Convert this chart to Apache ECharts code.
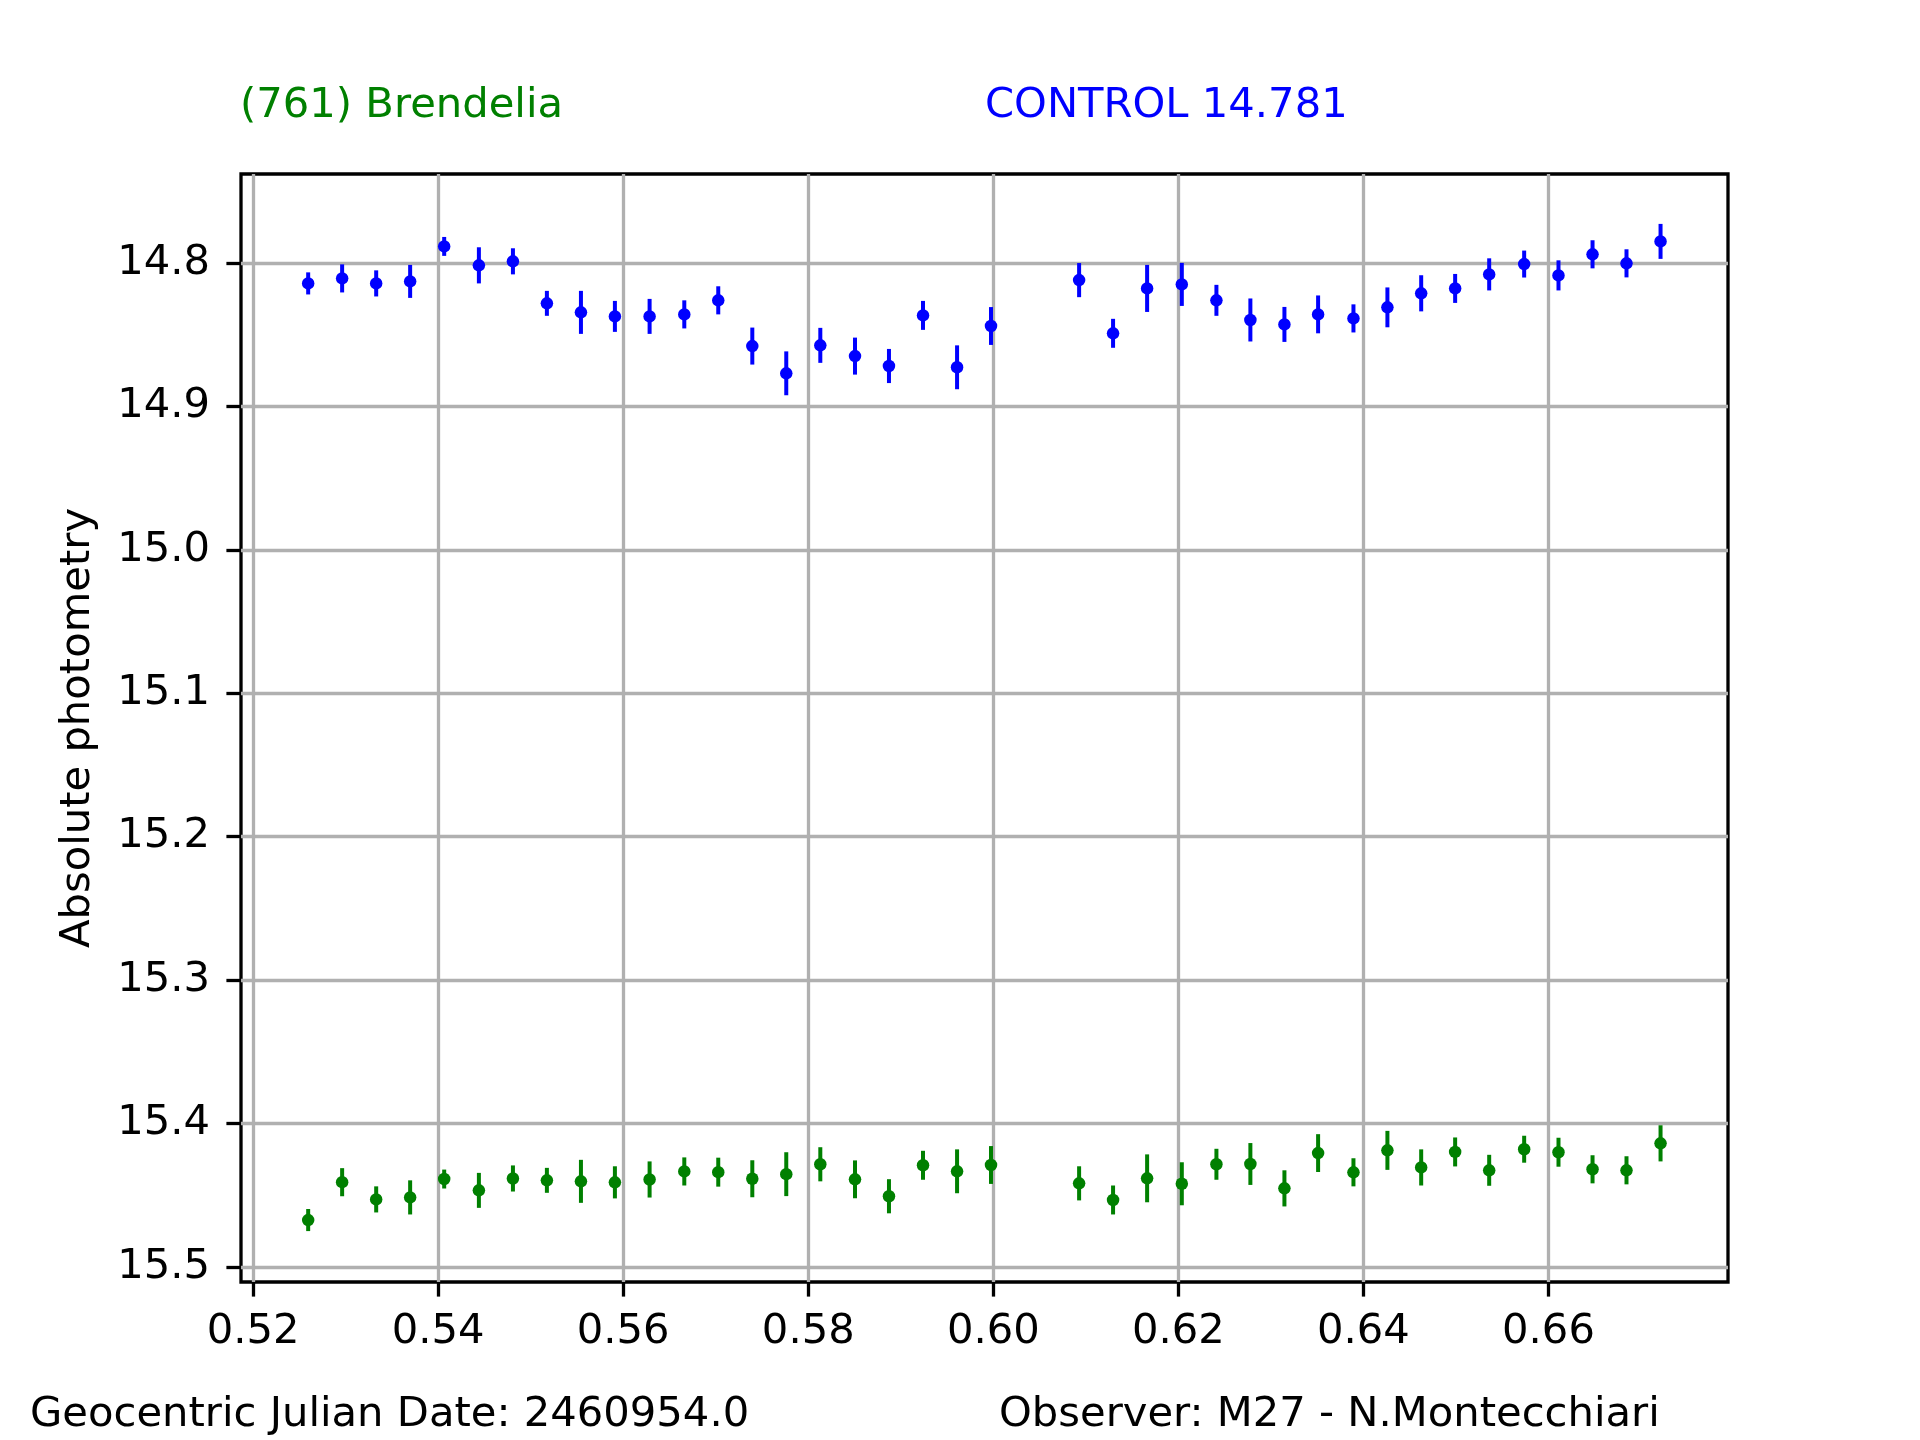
<!DOCTYPE html>
<html>
<head>
<meta charset="utf-8">
<script src="https://cdn.jsdelivr.net/npm/echarts@6/dist/echarts.min.js"></script>
<style>
  html, body { margin: 0; padding: 0; background: #fff; }
  #chart { width: 1920px; height: 1440px; }
</style>
</head>
<body>
<div id="chart"></div>
<script>
// time (fraction of day, JD 2460954.0 +)
const jd = [
  0.52595, 0.52962, 0.53330, 0.53697, 0.54065, 0.54440, 0.54808, 0.55175, 0.55543, 0.55910,
  0.56285, 0.56660, 0.57027, 0.57395, 0.57762, 0.58130, 0.58505, 0.58872, 0.59240, 0.59608,
  0.59975, 0.60927, 0.61294, 0.61662, 0.62037, 0.62411, 0.62778, 0.63146, 0.63510, 0.63892,
  0.64259, 0.64624, 0.64991, 0.65359, 0.65737, 0.66108, 0.66476, 0.66843, 0.67211
];

// control star (blue)
const controlMag = [
  14.8142, 14.8107, 14.8142, 14.8128, 14.7884, 14.8016, 14.7988, 14.8281, 14.8344, 14.8372,
  14.8372, 14.8358, 14.8260, 14.8579, 14.8769, 14.8574, 14.8649, 14.8718, 14.8365, 14.8727,
  14.8439, 14.8119, 14.8490, 14.8177, 14.8149, 14.8260, 14.8397, 14.8428, 14.8358, 14.8386,
  14.8309, 14.8211, 14.8177, 14.8079, 14.8007, 14.8086, 14.7939, 14.8002, 14.7849
];
const controlErr = [
  0.0077, 0.0098, 0.0091, 0.0115, 0.0066, 0.0126, 0.0091, 0.0087, 0.0150, 0.0108,
  0.0122, 0.0098, 0.0098, 0.0129, 0.0153, 0.0122, 0.0129, 0.0119, 0.0101, 0.0153,
  0.0132, 0.0119, 0.0101, 0.0164, 0.0150, 0.0108, 0.0150, 0.0122, 0.0132, 0.0098,
  0.0139, 0.0126, 0.0101, 0.0112, 0.0094, 0.0105, 0.0098, 0.0098, 0.0122
];

// (761) Brendelia (green)
const asteroidMag = [
  15.4674, 15.4410, 15.4530, 15.4516, 15.4388, 15.4467, 15.4384, 15.4397, 15.4404, 15.4411,
  15.4391, 15.4335, 15.4340, 15.4386, 15.4354, 15.4285, 15.4390, 15.4508, 15.4292, 15.4334,
  15.4290, 15.4418, 15.4534, 15.4383, 15.4421, 15.4285, 15.4283, 15.4453, 15.4207, 15.4341,
  15.4188, 15.4307, 15.4199, 15.4327, 15.4180, 15.4201, 15.4320, 15.4327, 15.4139
];
const asteroidErr = [
  0.0077, 0.0098, 0.0091, 0.0119, 0.0066, 0.0122, 0.0091, 0.0087, 0.0150, 0.0112,
  0.0126, 0.0098, 0.0101, 0.0129, 0.0153, 0.0119, 0.0132, 0.0119, 0.0101, 0.0153,
  0.0132, 0.0119, 0.0101, 0.0167, 0.0150, 0.0108, 0.0146, 0.0126, 0.0132, 0.0098,
  0.0136, 0.0126, 0.0101, 0.0108, 0.0094, 0.0101, 0.0098, 0.0098, 0.0126
];

const xTicks = [0.52, 0.54, 0.56, 0.58, 0.60, 0.62, 0.64, 0.66];
const yTicks = [14.8, 14.9, 15.0, 15.1, 15.2, 15.3, 15.4, 15.5];

const FONT = 'DejaVu Sans';
const FS = 41.7;

const chart = echarts.init(document.getElementById('chart'));

// barre d'errore verticali
function errorBars(color) {
  return function (params, api) {
    const x = api.value(0);
    const y = api.value(1);
    const e = api.value(2);
    const lo = api.coord([x, y - e]);
    const hi = api.coord([x, y + e]);
    return {
      type: 'line',
      shape: { x1: lo[0], y1: lo[1], x2: hi[0], y2: hi[1] },
      style: { stroke: color, lineWidth: 4 }
    };
  };
}

function withErr(mag, err) {
  return jd.map((x, i) => [x, mag[i], err[i]]);
}

const option = {
  backgroundColor: '#fff',
  animation: false,
  grid: {
    left: 241, top: 174, width: 1487, height: 1108,
    show: true, borderColor: '#000', borderWidth: 3.3, backgroundColor: 'transparent'
  },
  xAxis: {
    type: 'value',
    min: 0.51869, max: 0.67940,
    axisLine: { show: false },
    axisTick: { show: true, inside: false, length: 14.6, lineStyle: { color: '#000', width: 3.3 }, customValues: xTicks },
    axisLabel: {
      customValues: xTicks, margin: 29, color: '#000',
      fontFamily: FONT, fontSize: FS,
      formatter: v => v.toFixed(2)
    },
    splitLine: { show: true, lineStyle: { color: '#b0b0b0', width: 3.3 } }
  },
  yAxis: {
    type: 'value',
    inverse: true,
    min: 14.7379, max: 15.5106,
    name: 'Absolute photometry',
    nameLocation: 'middle',
    nameGap: 142,
    nameRotate: 90,
    nameTextStyle: { fontFamily: FONT, fontSize: FS, color: '#000' },
    axisLine: { show: false },
    axisTick: { show: true, inside: false, length: 14.6, lineStyle: { color: '#000', width: 3.3 }, customValues: yTicks },
    axisLabel: {
      customValues: yTicks, margin: 31, color: '#000',
      fontFamily: FONT, fontSize: FS,
      formatter: v => v.toFixed(1)
    },
    splitLine: { show: true, lineStyle: { color: '#b0b0b0', width: 3.3 } }
  },
  series: [
    {
      type: 'custom',
      renderItem: errorBars('#0000ff'),
      data: withErr(controlMag, controlErr),
      encode: { x: 0, y: 1 },
      z: 3
    },
    {
      type: 'scatter',
      data: jd.map((x, i) => [x, controlMag[i]]),
      symbolSize: 12.5,
      itemStyle: { color: '#0000ff', opacity: 1 },
      z: 4
    },
    {
      type: 'custom',
      renderItem: errorBars('#008000'),
      data: withErr(asteroidMag, asteroidErr),
      encode: { x: 0, y: 1 },
      z: 3
    },
    {
      type: 'scatter',
      data: jd.map((x, i) => [x, asteroidMag[i]]),
      symbolSize: 12.5,
      itemStyle: { color: '#008000', opacity: 1 },
      z: 4
    }
  ],
  graphic: [
    { type: 'text', left: 240, top: 85, style: { text: '(761) Brendelia', fill: '#008000', font: FS + 'px "' + FONT + '"' } },
    { type: 'text', left: 985, top: 85, style: { text: 'CONTROL 14.781', fill: '#0000ff', font: FS + 'px "' + FONT + '"' } },
    { type: 'text', left: 30, top: 1394, style: { text: 'Geocentric Julian Date: 2460954.0', fill: '#000', font: FS + 'px "' + FONT + '"' } },
    { type: 'text', left: 999, top: 1394, style: { text: 'Observer: M27 - N.Montecchiari', fill: '#000', font: FS + 'px "' + FONT + '"' } }
  ]
};

chart.setOption(option);
</script>
</body>
</html>
